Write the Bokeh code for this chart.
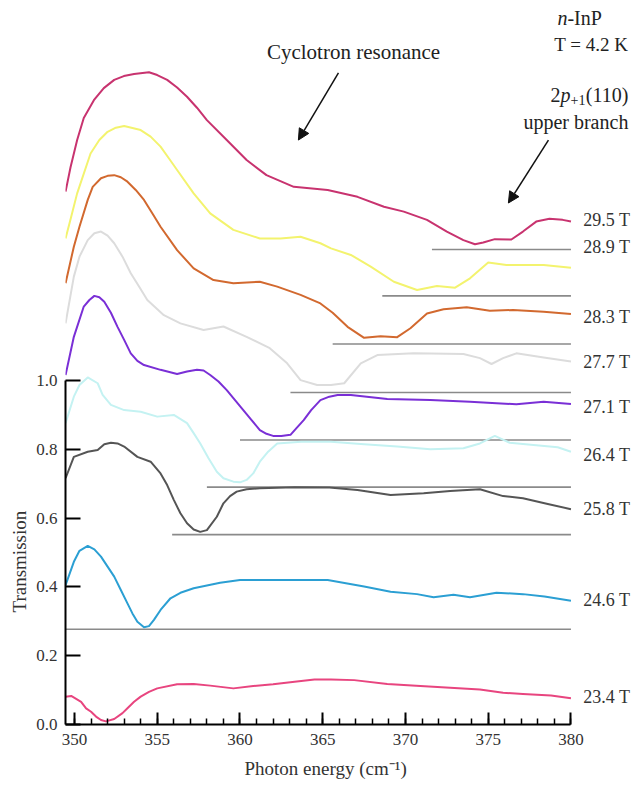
from bokeh.plotting import figure
from bokeh.models import Range1d, FixedTicker, PrintfTickFormatter, Arrow, NormalHead, Title
from bokeh.core.properties import value
from bokeh.embed import file_html
from bokeh.resources import INLINE

FONT = "Liberation Serif"

# ---- data ----
x_234 = [349.46, 349.8, 350.4, 350.7, 351.0, 351.3, 351.6, 351.9, 352.4, 352.9, 353.2, 353.6, 354.0, 354.5, 355.0,
         356.2, 357.2, 358.2, 359.6, 360.8, 362.0, 363.3, 364.5, 365.5, 366.9, 368.9, 370.9, 372.7, 374.5,
         375.9, 377.1, 378.8, 380.0]
y_234 = [0.081, 0.083, 0.066, 0.047, 0.037, 0.023, 0.013, 0.009, 0.016, 0.033, 0.047, 0.066, 0.081, 0.095, 0.105,
         0.117, 0.118, 0.113, 0.105, 0.112, 0.117, 0.124, 0.131, 0.131, 0.129, 0.118, 0.112, 0.107, 0.102,
         0.092, 0.089, 0.084, 0.076]

x_246 = [349.46, 349.96, 350.3, 350.8, 351.2, 351.6, 352.0, 352.4, 352.8, 353.2, 353.5, 353.8, 354.2, 354.5,
         354.8, 355.2, 355.8, 356.4, 357.2, 358.8, 360.0, 363.3, 365.3, 367.5, 369.1, 370.7, 371.7, 372.9,
         373.9, 375.5, 377.1, 378.4, 380.0]
y_246 = [0.405, 0.473, 0.505, 0.519, 0.509, 0.488, 0.459, 0.430, 0.391, 0.352, 0.323, 0.299, 0.283, 0.286,
         0.304, 0.333, 0.367, 0.383, 0.396, 0.412, 0.420, 0.420, 0.420, 0.401, 0.386, 0.379, 0.370, 0.377,
         0.370, 0.383, 0.379, 0.372, 0.360]

x_258 = [349.46, 349.96, 350.8, 351.4, 351.8, 352.2, 352.6, 353.0, 353.8, 354.6, 355.2, 355.6, 356.0, 356.4,
         356.8, 357.2, 357.6, 358.0, 358.6, 359.0, 359.4, 359.8, 360.4, 361.2, 363.3, 365.4, 367.1, 369.1,
         371.1, 372.7, 374.5, 375.9, 377.1, 378.6, 380.0]
y_258 = [0.716, 0.778, 0.793, 0.798, 0.815, 0.819, 0.817, 0.808, 0.778, 0.764, 0.730, 0.696, 0.653, 0.614,
         0.585, 0.567, 0.560, 0.565, 0.604, 0.643, 0.664, 0.677, 0.684, 0.687, 0.690, 0.689, 0.682, 0.667,
         0.672, 0.679, 0.684, 0.664, 0.658, 0.641, 0.626]

x_264 = [349.46, 349.96, 350.3, 350.8, 351.4, 351.7, 352.2, 353.0, 354.0, 355.0, 356.0, 356.8, 357.2, 357.6,
         358.1, 358.6, 359.0, 359.6, 360.0, 360.4, 360.8, 361.2, 361.7, 362.25, 363.7, 365.5, 367.5, 369.5,
         371.5, 373.5, 374.5, 375.4, 376.3, 377.9, 379.2, 380.0]
y_264 = [0.876, 0.953, 0.987, 1.009, 0.992, 0.958, 0.929, 0.914, 0.909, 0.895, 0.900, 0.876, 0.847, 0.817,
         0.774, 0.735, 0.716, 0.706, 0.704, 0.711, 0.730, 0.764, 0.793, 0.817, 0.822, 0.822, 0.815, 0.808,
         0.800, 0.803, 0.817, 0.839, 0.819, 0.812, 0.806, 0.793]

x_271 = [349.46, 349.96, 350.56, 350.9, 351.2, 351.5, 351.8, 352.2, 352.6, 353.0, 353.4, 353.8, 354.2, 355.2,
         356.2, 356.8, 357.4, 357.8, 358.2, 358.7, 359.2, 359.7, 360.2, 360.7, 361.2, 361.6, 362.0, 362.5,
         363.05, 363.4, 363.85, 364.3, 364.86, 365.4, 365.9, 366.7, 368.9, 371.5, 373.9, 375.5, 376.7,
         378.35, 380.0]
y_271 = [1.016, 1.127, 1.215, 1.234, 1.246, 1.242, 1.229, 1.197, 1.156, 1.118, 1.079, 1.057, 1.045, 1.031,
         1.019, 1.026, 1.031, 1.029, 1.016, 0.997, 0.972, 0.943, 0.914, 0.885, 0.856, 0.845, 0.839, 0.839,
         0.842, 0.861, 0.885, 0.914, 0.943, 0.953, 0.958, 0.958, 0.946, 0.943, 0.938, 0.934, 0.931,
         0.938, 0.932]

x_277 = [349.46, 349.96, 350.3, 350.8, 351.2, 351.6, 352.0, 352.4, 352.9, 353.4, 353.9, 354.4, 355.4, 356.4,
         357.8, 359.0, 360.4, 361.8, 362.85, 363.66, 364.66, 365.5, 366.3, 367.3, 368.3, 370.5, 373.5, 374.5,
         375.2, 375.9, 376.7, 378.35, 380.0]
y_277 = [1.166, 1.302, 1.360, 1.408, 1.428, 1.433, 1.421, 1.399, 1.360, 1.312, 1.273, 1.234, 1.190, 1.166,
         1.147, 1.157, 1.127, 1.094, 1.050, 1.001, 0.987, 0.987, 0.992, 1.050, 1.074, 1.079, 1.077, 1.065,
         1.048, 1.065, 1.079, 1.067, 1.055]

x_283 = [349.46, 349.96, 350.3, 350.8, 351.1, 351.6, 352.0, 352.4, 352.8, 353.2, 353.7, 354.2, 354.7, 355.2,
         356.2, 357.2, 358.4, 359.6, 361.2, 362.25, 363.66, 364.86, 365.6, 366.5, 367.5, 368.5, 369.5, 370.3,
         371.3, 372.3, 373.7, 375.1, 376.5, 378.35, 380.0]
y_283 = [1.283, 1.389, 1.447, 1.525, 1.563, 1.588, 1.595, 1.597, 1.591, 1.578, 1.554, 1.525, 1.486, 1.447,
         1.379, 1.326, 1.292, 1.283, 1.287, 1.273, 1.249, 1.224, 1.197, 1.156, 1.124, 1.129, 1.126, 1.152,
         1.195, 1.207, 1.213, 1.203, 1.205, 1.200, 1.193]

x_289 = [349.46, 349.8, 350.16, 350.97, 351.5, 352.0, 352.5, 353.0, 354.0, 354.6, 355.2, 355.7, 356.2, 357.2,
         358.2, 359.6, 361.2, 362.45, 363.66, 364.86, 365.5, 366.7, 367.9, 369.3, 370.7, 371.9, 373.0, 373.9,
         375.0, 376.1, 378.35, 380.0]
y_289 = [1.413, 1.476, 1.544, 1.660, 1.699, 1.723, 1.735, 1.740, 1.728, 1.709, 1.680, 1.646, 1.612, 1.544,
         1.486, 1.438, 1.413, 1.413, 1.418, 1.399, 1.384, 1.365, 1.331, 1.287, 1.263, 1.275, 1.270, 1.297,
         1.343, 1.336, 1.336, 1.328]

x_295 = [349.46, 349.76, 350.16, 350.56, 351.17, 351.77, 352.4, 352.98, 353.6, 354.5, 355.0, 355.6, 356.2,
         356.8, 357.4, 358.0, 359.2, 360.4, 361.6, 363.25, 365.3, 367.1, 368.7, 369.9, 371.3, 372.5, 373.5,
         374.2, 374.7, 375.4, 376.4, 377.1, 377.9, 378.7, 379.5, 380.0]
y_295 = [1.549, 1.620, 1.699, 1.763, 1.815, 1.850, 1.874, 1.885, 1.891, 1.896, 1.888, 1.874, 1.852,
         1.825, 1.793, 1.757, 1.699, 1.641, 1.597, 1.563, 1.554, 1.534, 1.505, 1.491, 1.467, 1.433, 1.408,
         1.396, 1.401, 1.411, 1.410, 1.433, 1.462, 1.470, 1.467, 1.462]

series_x = [x_295, x_289, x_283, x_277, x_271, x_264, x_258, x_246, x_234]
series_y = [y_295, y_289, y_283, y_277, y_271, y_264, y_258, y_246, y_234]
series_colors = ["#c8336f", "#f3f36e", "#d2692f", "#dcdcdc", "#7a2fd6", "#c4f2f2", "#555555", "#2b9fd3", "#e8457f"]

field_labels = ["29.5 T", "28.9 T", "28.3 T", "27.7 T", "27.1 T", "26.4 T", "25.8 T", "24.6 T", "23.4 T"]
field_label_y = [1.468, 1.387, 1.186, 1.054, 0.923, 0.784, 0.626, 0.362, 0.080]

base_x0 = [349.46, 355.9, 358.0, 360.0, 363.05, 365.6, 368.6, 371.6]
base_x1 = [380.0] * 8
base_y = [0.277, 0.552, 0.690, 0.827, 0.965, 1.106, 1.246, 1.381]

x_major = [350, 355, 360, 365, 370, 375, 380]
x_minor = list(range(350, 381))
y_major = [0.0, 0.2, 0.4, 0.6, 0.8, 1.0]

# ---- figure ----
p = figure(width=634, height=787, output_backend="svg", toolbar_location=None,
           x_range=Range1d(349.456, 383.84), y_range=Range1d(0, 2.1047),
           min_border_left=65, min_border_right=0, min_border_top=0, min_border_bottom=63)
p.outline_line_color = None
p.grid.visible = False

xa = p.xaxis[0]
xa.bounds = (349.456, 380)
xa.ticker = FixedTicker(ticks=x_major, minor_ticks=x_minor)
xa.major_tick_in = 12
xa.major_tick_out = 0
xa.minor_tick_in = 6
xa.minor_tick_out = 0
xa.axis_line_width = 2
xa.major_tick_line_width = 2
xa.minor_tick_line_width = 1.5
xa.major_label_standoff = 9
xa.major_label_text_font = FONT
xa.major_label_text_font_size = "17px"
xa.major_label_text_color = "#333333"

ya = p.yaxis[0]
ya.bounds = (0, 1.0)
ya.ticker = FixedTicker(ticks=y_major)
ya.formatter = PrintfTickFormatter(format="%.1f")
ya.major_tick_in = 15
ya.major_tick_out = 0
ya.minor_tick_line_color = None
ya.axis_line_width = 2
ya.major_tick_line_width = 2
ya.major_label_standoff = 8
ya.major_label_text_font = FONT
ya.major_label_text_font_size = "17px"
ya.major_label_text_color = "#333333"

# axis titles, positioned along the drawn axis extents
p.add_layout(Title(text="Photon energy (cm⁻¹)", align="left", offset=179,
                   standoff=17, text_font=FONT, text_font_size="19px",
                   text_font_style="normal", text_color="#333333"), "below")
p.add_layout(Title(text="Transmission", align="left", offset=112,
                   standoff=8, text_font=FONT, text_font_size="19px",
                   text_font_style="normal", text_color="#333333"), "left")

# baselines
p.segment(x0=base_x0, y0=base_y, x1=base_x1, y1=base_y, line_color="#8a8a8a", line_width=1.6)

# spectra
for xs, ys, c in zip(series_x, series_y, series_colors):
    p.line(xs, ys, line_color=c, line_width=2, line_join="round")

# field labels
p.text(x=[380.75] * len(field_labels), y=field_label_y, text=field_labels,
       text_font=value(FONT), text_font_size="18px", text_color="#333333",
       text_align="left", text_baseline="middle")

# annotations
def t(x, y, s, size="20px", align="left", style="normal", xo=0, yo=0):
    p.text(x=[x], y=[y], text=[s], text_font=value(FONT), text_font_size=size,
           text_font_style=style, text_color="#222222", text_align=align,
           text_baseline="middle", x_offset=xo, y_offset=yo)

t(366.86, 1.955, "Cyclotron resonance", size="21px", align="center")
t(379.18, 2.054, "n", style="italic")
t(379.18, 2.054, "-InP", xo=10)
t(383.47, 1.978, "T = 4.2 K", size="19px", align="right")
# 2p_{+1}(110), right-aligned
t(383.47, 1.830, "(110)", align="right")
t(383.47, 1.830, "+1", size="14px", align="right", xo=-43, yo=5)
t(383.47, 1.830, "p", style="italic", align="right", xo=-58)
t(383.47, 1.830, "2", align="right", xo=-68)
t(383.47, 1.751, "upper branch", align="right")

p.add_layout(Arrow(x_start=365.95, y_start=1.894, x_end=363.53, y_end=1.699,
                   line_width=1.5, line_color="#111111",
                   end=NormalHead(size=11, fill_color="#111111", line_color="#111111")))
p.add_layout(Arrow(x_start=378.64, y_start=1.699, x_end=376.22, y_end=1.516,
                   line_width=1.5, line_color="#111111",
                   end=NormalHead(size=11, fill_color="#111111", line_color="#111111")))

open("out.html", "w").write(file_html(p, INLINE))
